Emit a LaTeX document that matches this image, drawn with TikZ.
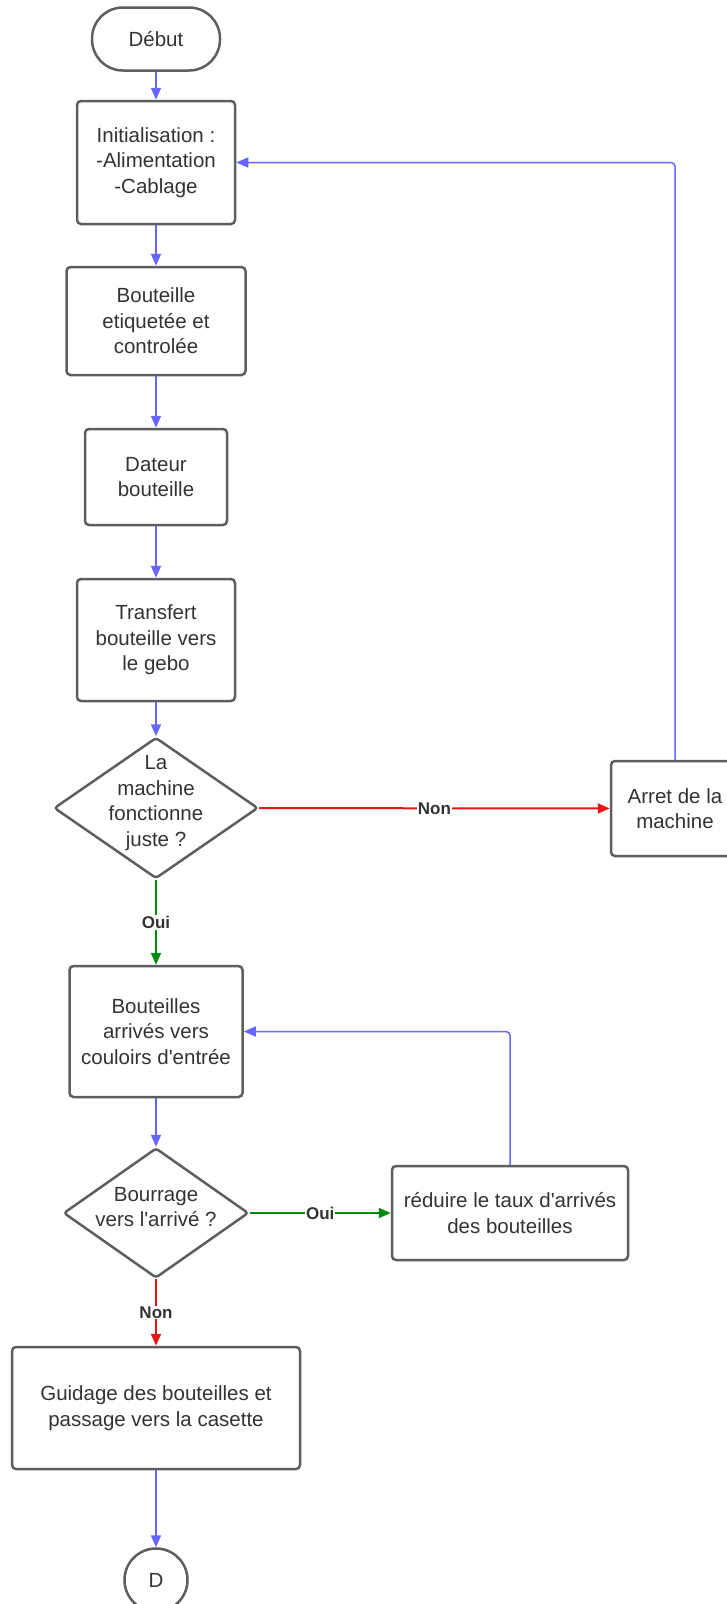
\documentclass[tikz,border=0pt]{standalone}
\usepackage{fontspec}
\setmainfont{Liberation Sans}[Ligatures=TeXOff]
\usetikzlibrary{arrows.meta,shapes.geometric}
\definecolor{boxline}{HTML}{5E5E5E}
\definecolor{txt}{HTML}{333333}
\definecolor{flowblue}{HTML}{6666FF}
\definecolor{flowred}{HTML}{E81416}
\definecolor{flowgreen}{HTML}{008A0E}
\newcommand\flowfont{\fontsize{20.5}{25.5}\selectfont}
\newcommand\lblfont{\bfseries\fontsize{17}{20}\selectfont}
\tikzset{
	box/.style={draw=boxline, line width=2.5pt, rounded corners=4pt, align=center, text=txt, inner sep=0pt, font=\flowfont},
	dia/.style={draw=boxline, line width=2.5pt, rounded corners=3pt, diamond, inner sep=0pt},
	dtext/.style={align=center, text=txt, font=\flowfont},
	flow/.style={-{Triangle[length=12pt,width=10pt]}, line width=2pt, color=flowblue},
	back/.style={flow, line width=1.5pt, rounded corners=4pt},
	lbl/.style={font=\lblfont, text=txt, fill=white, inner sep=1pt}
}

\begin{document}
\begin{tikzpicture}[x=1pt, y=-1pt]
			%%%%% START %%%%%
			\useasboundingbox (0, 0) rectangle (727, 1604);
			
			\node[box, rounded corners=31pt, minimum width=128, minimum height=63] (debut) at (156, 39) {Début};
			\node[box, minimum width=158, minimum height=123] (init) at (156, 162.5) {Initialisation :\\-Alimentation\\-Cablage};
			\node[box, minimum width=179, minimum height=108] (etiq) at (156, 321) {Bouteille\\etiquetée et\\controlée};
			\node[box, minimum width=142, minimum height=96] (dateur) at (156, 477) {Dateur\\bouteille};
			\node[box, minimum width=158, minimum height=122] (transf) at (156, 640) {Transfert\\bouteille vers\\le gebo};
			
			\node[dia, minimum width=204, minimum height=141, label={[dtext, yshift=5pt]center:{La\\machine\\fonctionne\\juste ?}}] (machine) at (156, 808) {};
			\node[box, minimum width=128, minimum height=95] (arret) at (675, 808.5) {Arret de la\\machine};
			
			\node[box, minimum width=173, minimum height=131] (arrive) at (156, 1031.5) {Bouteilles\\arrivés vers\\couloirs d'entrée};
			\node[dia, minimum width=185, minimum height=130, label={[dtext, yshift=6pt]center:{Bourrage\\vers l'arrivé ?}}] (bourrage) at (156, 1213) {};
			\node[box, minimum width=236, minimum height=94] (reduire) at (510, 1213) {réduire le taux d'arrivés\\des bouteilles};
			
			\node[box, minimum width=288, minimum height=122] (guidage) at (156, 1408) {Guidage des bouteilles et\\passage vers la casette};
			\node[box, circle, minimum size=63] (fin) at (156, 1580) {D};
			
			\draw[flow] (debut) -- (init);
			\draw[flow] (init) -- (etiq);
			\draw[flow] (etiq) -- (dateur);
			\draw[flow] (dateur) -- (transf);
			\draw[flow] (transf) -- (machine);
			
			\draw[flow, color=flowred] (machine) -- node[lbl] {Non} (arret);
			\draw[back] (arret.north) |- (init.east);
			\draw[flow, color=flowgreen] (machine) -- node[lbl] {Oui} (arrive);
			
			\draw[flow] (arrive) -- (bourrage);
			\draw[flow, color=flowgreen] (bourrage) -- node[lbl] {Oui} (reduire);
			\draw[back] (reduire.north) |- (arrive.east);
			\draw[flow, color=flowred] (bourrage) -- node[lbl] {Non} (guidage);
			
			\draw[flow] (guidage) -- (fin);
			%%%%% END %%%%%
\end{tikzpicture}
\end{document}
